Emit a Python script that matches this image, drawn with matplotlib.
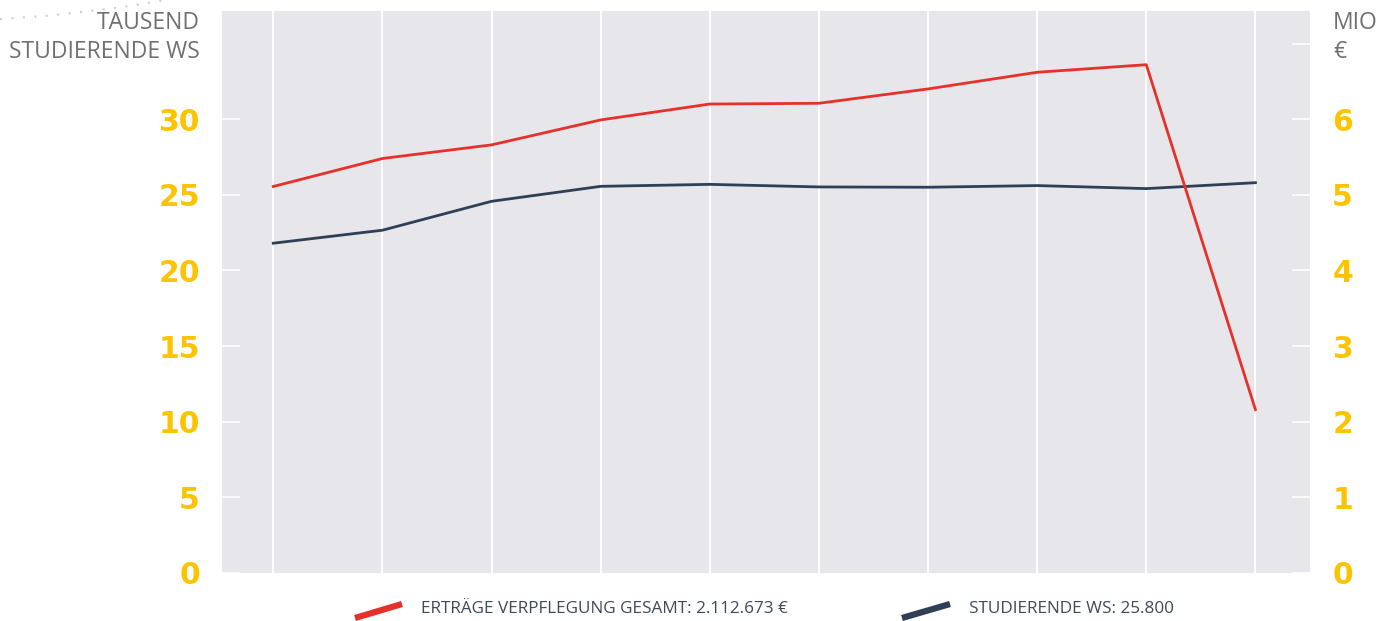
import matplotlib
matplotlib.use("Agg")
import matplotlib.pyplot as plt
from matplotlib.lines import Line2D
import numpy as np

# values
jahre_idx = list(range(10))
studierende = [21.8, 22.66, 24.57, 25.56, 25.69, 25.52, 25.5, 25.61, 25.41, 25.8]   # tausend
ertraege = [5.11, 5.48, 5.66, 5.99, 6.2, 6.21, 6.4, 6.62, 6.72, 2.16]              # mio euro

left_ticks = [0, 5, 10, 15, 20, 25, 30]
right_ticks = [0, 1, 2, 3, 4, 5, 6, 7]
right_labels = ["0", "1", "2", "3", "4", "5", "6", ""]

legend_labels = ["ERTRÄGE VERPFLEGUNG GESAMT: 2.112.673 €", "STUDIERENDE WS: 25.800"]

RED = "#e8302a"
NAVY = "#2e3f56"
YELLOW = "#fcc400"
BG = "#e6e6eb"
GREY = "#707070"

fig = plt.figure(figsize=(13.97, 6.21), dpi=100)
ax = fig.add_axes([222/1397, 48/621, (1310-222)/1397, (573-11)/621])
ax2 = ax.twinx()

ax.set_facecolor(BG)
ax.set_xlim(-0.47, 9.5)
ax.set_ylim(0, 37.15)
ax2.set_ylim(0, 7.43)

for xi in jahre_idx:
    ax.axvline(xi, color="white", lw=1.3, zorder=0)

ax2.plot(jahre_idx, ertraege, color=RED, lw=2.0, solid_joinstyle="round")
ax.plot(jahre_idx, studierende, color=NAVY, lw=2.0, solid_joinstyle="round")

for a in (ax, ax2):
    for s in a.spines.values():
        s.set_visible(False)
    a.set_xticks([])

tick_font = dict(fontsize=21.5, fontweight="heavy", color=YELLOW, family="DejaVu Sans")
ax.set_yticks(left_ticks)
ax.set_yticklabels([str(t) for t in left_ticks], **tick_font)
ax.tick_params(axis="y", direction="in", length=13, width=1.2, color="white", pad=16)
ax2.set_yticks(right_ticks)
ax2.set_yticklabels(right_labels, **tick_font)
ax2.tick_params(axis="y", direction="in", length=13, width=1.2, color="white", pad=16)

# axis titles
title_font = dict(fontsize=16.5, color=GREY, family="Open Sans", linespacing=1.25, va="top")
fig.text(200/1397, 1 - 11/621, "TAUSEND\nSTUDIERENDE WS", ha="right", **title_font)
fig.text(1333/1397, 1 - 11/621, "MIO\n€", ha="left", **title_font)

# decorative dotted arc top-left
arc_x = np.array([0, 45, 90, 130, 165]) / 1397
arc_y = 1 - np.array([19, 16, 11, 6, 0]) / 621
fig.add_artist(Line2D(arc_x, arc_y, transform=fig.transFigure, color="#cfcfcf",
                      lw=1.5, ls=(0, (1, 4.5))))

# legend
for (x0, x1, tx, col, lab) in [(355, 402, 421, RED, legend_labels[0]),
                               (902, 950, 969, NAVY, legend_labels[1])]:
    fig.add_artist(Line2D([x0/1397, x1/1397], [1 - 618/621, 1 - 604/621],
                          transform=fig.transFigure, color=col, lw=4.5,
                          solid_capstyle="butt"))
    fig.text(tx/1397, 1 - 609/621, lab, ha="left", va="center", fontsize=12.3,
             color="#3d4a5c", family="Open Sans")

fig.savefig("out.png", dpi=100)
